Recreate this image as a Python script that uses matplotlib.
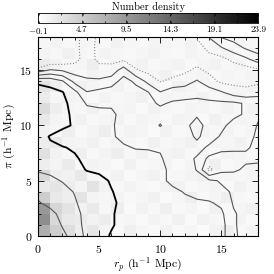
import numpy as np
import matplotlib
matplotlib.use('Agg')
import matplotlib.pyplot as plt
from matplotlib.ticker import MultipleLocator

plt.rcParams['font.family'] = 'serif'
plt.rcParams['font.serif'] = ['cmr10']
plt.rcParams['mathtext.fontset'] = 'cm'
plt.rcParams['axes.formatter.use_mathtext'] = True

# number density per 1x1 Mpc cell (rows: pi = 0..17, cols: r_p = 0..17)
density = np.array([
    [7.5, 4.5, 3.0, 1.5, 2.2, 1.0, 0.6, 1.4, 0.8, 0.5, 1.2, 0.6, 0.9, 0.4, 1.1, 1.5, 0.6, 0.9],
    [10.5, 3.5, 2.0, 1.8, 1.2, 1.6, 0.7, 0.9, 0.5, 1.1, 0.7, 1.3, 0.5, 1.2, 0.8, 0.6, 1.0, 0.5],
    [9.5, 3.8, 2.6, 1.2, 2.0, 0.8, 1.5, 0.5, 1.2, 0.7, 1.4, 0.6, 0.9, 0.5, 1.3, 0.6, 0.9, 1.2],
    [4.5, 2.0, 1.5, 2.6, 1.0, 0.8, 1.0, 0.6, 0.9, 1.3, 0.5, 0.8, 1.4, 0.6, 0.9, 1.4, 0.7, 0.6],
    [2.0, 2.4, 1.6, 1.0, 2.6, 1.2, 0.6, 1.1, 0.7, 0.5, 1.0, 1.3, 0.6, 0.8, 1.0, 0.5, 1.2, 0.8],
    [3.5, 1.4, 1.2, 2.0, 0.8, 0.6, 1.2, 0.5, 0.9, 1.2, 0.6, 0.8, 1.0, 1.3, 0.6, 0.9, 0.7, 1.0],
    [1.5, 1.0, 1.8, 0.7, 1.1, 0.9, 0.5, 1.3, 0.6, 0.8, 1.1, 0.5, 0.9, 0.7, 1.4, 0.6, 0.8, 1.1],
    [2.8, 1.2, 0.8, 1.4, 0.6, 1.0, 1.5, 0.7, 1.2, 0.6, 0.9, 1.2, 0.6, 1.0, 0.5, 1.1, 0.9, 0.6],
    [1.6, 2.0, 1.0, 0.9, 1.3, 0.6, 1.0, 0.8, 0.6, 1.3, 0.7, 0.9, 1.3, 0.6, 0.9, 0.8, 1.2, 0.7],
    [1.2, 0.8, 1.4, 0.6, 1.0, 1.5, 0.7, 1.1, 0.9, 0.5, 1.2, 0.6, 0.8, 1.1, 0.7, 1.0, 0.6, 0.9],
    [2.0, 1.0, 0.7, 1.2, 0.6, 0.9, 1.2, 0.6, 1.0, 0.8, 0.6, 1.1, 0.9, 0.5, 1.3, 0.7, 1.0, 0.8],
    [3.2, 1.5, 0.9, 0.7, 1.3, 0.6, 0.9, 1.0, 0.5, 1.2, 0.8, 0.6, 1.0, 0.9, 0.6, 1.1, 0.7, 1.2],
    [1.8, 0.9, 1.2, 1.0, 0.6, 1.1, 0.7, 0.9, 1.3, 0.6, 1.0, 0.8, 0.7, 1.2, 0.6, 0.9, 1.0, 0.6],
    [2.5, 1.4, 0.7, 1.3, 0.9, 0.6, 1.2, 0.6, 0.8, 1.0, 0.5, 1.3, 0.9, 0.6, 1.0, 0.7, 0.8, 1.1],
    [1.4, 0.8, 1.1, 0.6, 1.2, 0.9, 0.6, 1.1, 0.7, 0.9, 1.3, 0.6, 0.8, 1.0, 0.6, 0.9, 0.7, 1.0],
    [1.8, 1.2, 0.7, 0.9, 1.5, 0.6, 1.0, 0.7, 1.2, 0.6, 0.8, 1.1, 0.6, 0.9, 1.2, 0.7, 1.0, 0.6],
    [1.0, 0.7, 1.3, 0.8, 0.6, 1.1, 0.8, 0.6, 0.9, 1.2, 0.7, 0.6, 1.0, 0.7, 0.8, 1.1, 0.6, 0.9],
    [0.8, 1.1, 0.6, 1.0, 0.9, 0.6, 1.2, 0.8, 0.6, 1.0, 0.9, 0.7, 1.1, 0.6, 0.9, 0.6, 1.0, 0.7],
])

# smoothed field on grid nodes (rows: pi = 0..18, cols: r_p = 0..18)
field = np.array([
    [8.0, 7.5, 6.8, 6.0, 5.3, 4.9, 4.4, 4.0, 3.9, 3.9, 3.8, 3.8, 3.8, 3.75, 3.75, 3.9, 2.6, 2.3, 2.4],
    [8.5, 7.3, 6.4, 5.9, 5.2, 4.9, 4.6, 4.2, 4.0, 3.9, 3.9, 3.8, 3.8, 3.8, 3.8, 3.9, 2.6, 2.2, 2.4],
    [7.9, 6.8, 6.2, 5.8, 5.2, 4.9, 4.6, 4.2, 4.0, 3.9, 3.8, 3.8, 3.8, 3.7, 3.7, 3.7, 2.6, 2.2, 2.3],
    [6.6, 6.2, 5.9, 5.6, 5.1, 4.8, 4.65, 4.3, 4.0, 3.9, 3.8, 3.8, 3.7, 3.65, 3.6, 3.3, 2.4, 2.2, 2.3],
    [6.2, 6.0, 5.8, 5.45, 5.0, 4.7, 4.55, 4.2, 4.0, 3.9, 3.8, 3.7, 3.45, 3.2, 3.0, 2.7, 2.4, 2.2, 2.2],
    [5.9, 5.7, 5.45, 5.2, 4.9, 4.8, 4.4, 4.1, 3.9, 3.8, 3.7, 3.3, 3.1, 2.9, 2.7, 2.4, 2.2, 2.2, 2.1],
    [5.4, 5.3, 5.1, 4.8, 4.45, 4.3, 4.1, 4.0, 3.9, 3.8, 3.7, 3.3, 3.0, 2.45, 0.2, 1.2, 1.3, 1.7, 1.8],
    [5.0, 4.9, 4.8, 4.6, 4.3, 4.1, 4.0, 3.9, 3.8, 3.7, 3.6, 3.1, 2.8, 2.4, 1.2, 1.0, 1.1, 1.3, 1.3],
    [4.75, 4.6, 4.55, 4.4, 4.2, 4.0, 3.8, 3.6, 3.45, 3.45, 3.4, 3.1, 2.9, 2.8, 2.35, 1.8, 1.7, 1.6, 1.3],
    [4.8, 4.45, 4.1, 3.9, 3.8, 3.7, 3.6, 3.3, 3.2, 3.1, 3.0, 2.9, 2.9, 2.35, 2.9, 2.4, 2.0, 1.7, 1.4],
    [5.0, 4.9, 4.7, 4.4, 4.0, 3.8, 3.6, 3.2, 3.0, 2.9, 2.45, 2.9, 2.7, 2.2, 2.8, 2.7, 2.2, 1.9, 1.45],
    [5.1, 4.95, 4.7, 4.35, 3.9, 3.8, 3.75, 3.1, 3.0, 2.9, 2.8, 2.9, 2.8, 2.6, 2.8, 2.9, 2.7, 2.4, 1.6],
    [5.1, 5.0, 4.7, 4.2, 3.4, 3.3, 3.3, 3.0, 2.9, 2.7, 2.4, 2.6, 2.7, 2.75, 2.7, 2.7, 2.7, 2.4, 2.0],
    [4.9, 4.75, 4.55, 3.8, 2.55, 2.8, 3.0, 3.1, 2.9, 2.55, 1.55, 2.1, 2.1, 2.2, 2.0, 1.6, 1.0, 0.8, 1.2],
    [4.33, 4.19, 3.6, 2.2, 1.7, 1.7, 2.0, 2.9, 2.3, 1.2, 0.45, 0.7, 1.0, 1.6, 0.9, 0.3, 0.2, 0.2, 0.2],
    [1.0, 1.6, 1.4, 1.0, 1.0, 0.8, 0.9, 2.0, 0.6, 0.2, 0.0, 0.1, 0.3, 0.7, 0.3, 0.0, -0.2, 0.0, 0.3],
    [-1.5, -0.5, -0.3, 0.2, 0.9, 0.3, 0.2, 0.3, 0.0, -0.3, -0.5, -0.5, -0.3, 0.1, 0.1, 0.2, 0.8, 1.3, 2.0],
    [-1.0, -0.8, -0.5, 0.2, 1.0, 0.2, -0.2, -0.3, -0.4, -0.5, -0.5, -0.5, -0.3, 0.0, 0.8, 1.4, 2.0, 2.6, 3.0],
    [-1.0, -1.0, -0.5, 0.2, 0.95, 0.3, -0.2, -0.3, -0.4, -0.5, -0.5, -0.3, 0.0, 0.6, 1.55, 2.55, 2.9, 3.1, 3.2],
])

levels = [0.5, 1.5, 2.5, 3.5, 4.5, 5.5, 6.5]
level_colors = ['#8a8a8a', '#555555', '#555555', '#555555', 'black', '#555555', '#555555']
level_widths = [0.8, 0.8, 0.8, 0.8, 1.3, 0.8, 0.8]
level_styles = [':', '-', '-', '-', '-', '-', '-']

cbar_ticks = [-0.1, 4.7, 9.5, 14.3, 19.1, 23.9]
cbar_labels = ['$-0.1$', '4.7', '9.5', '14.3', '19.1', '23.9']

fig = plt.figure(figsize=(2.74, 2.74), dpi=100)
ax = fig.add_axes([0.1387, 0.1387, 0.803, 0.726])
cax = fig.add_axes([0.1387, 0.916, 0.803, 0.0365])

xe = np.arange(density.shape[1] + 1)
ye = np.arange(density.shape[0] + 1)
mesh = ax.pcolormesh(xe, ye, density, cmap='gray_r', vmin=-0.1, vmax=23.9)

xn = np.arange(field.shape[1])
yn = np.arange(field.shape[0])
ax.contour(xn, yn, field, levels=levels, colors=level_colors,
           linewidths=level_widths, linestyles=level_styles)

ax.set_xlim(0, 18)
ax.set_ylim(0, 18)
ax.xaxis.set_major_locator(MultipleLocator(5))
ax.yaxis.set_major_locator(MultipleLocator(5))
ax.xaxis.set_minor_locator(MultipleLocator(1))
ax.yaxis.set_minor_locator(MultipleLocator(1))
ax.tick_params(which='both', direction='in', top=True, right=True, labelsize=8.5, width=0.6)
ax.tick_params(which='major', length=4)
ax.tick_params(which='minor', length=2)
ax.tick_params(axis='x', pad=5)
ax.tick_params(axis='y', pad=4)
for s in ax.spines.values():
    s.set_linewidth(0.8)
ax.set_xlabel(r'$r_p$ (h$^{-1}$ Mpc)', fontsize=8.5, labelpad=0)
ax.set_ylabel(r'$\pi$ (h$^{-1}$ Mpc)', fontsize=8.5, labelpad=1)

cb = fig.colorbar(mesh, cax=cax, orientation='horizontal', ticks=cbar_ticks)
cb.set_ticklabels(cbar_labels)
cb.outline.set_linewidth(0.6)
cax.xaxis.set_minor_locator(MultipleLocator(2.4))
cax.tick_params(which='both', direction='in', top=True, bottom=True, labelsize=6.5, pad=2, width=0.5)
cax.tick_params(which='major', length=2)
cax.tick_params(which='minor', length=1.2)
cax.set_title('Number density', fontsize=7.5, pad=2)

fig.savefig('out.png', dpi=100)
